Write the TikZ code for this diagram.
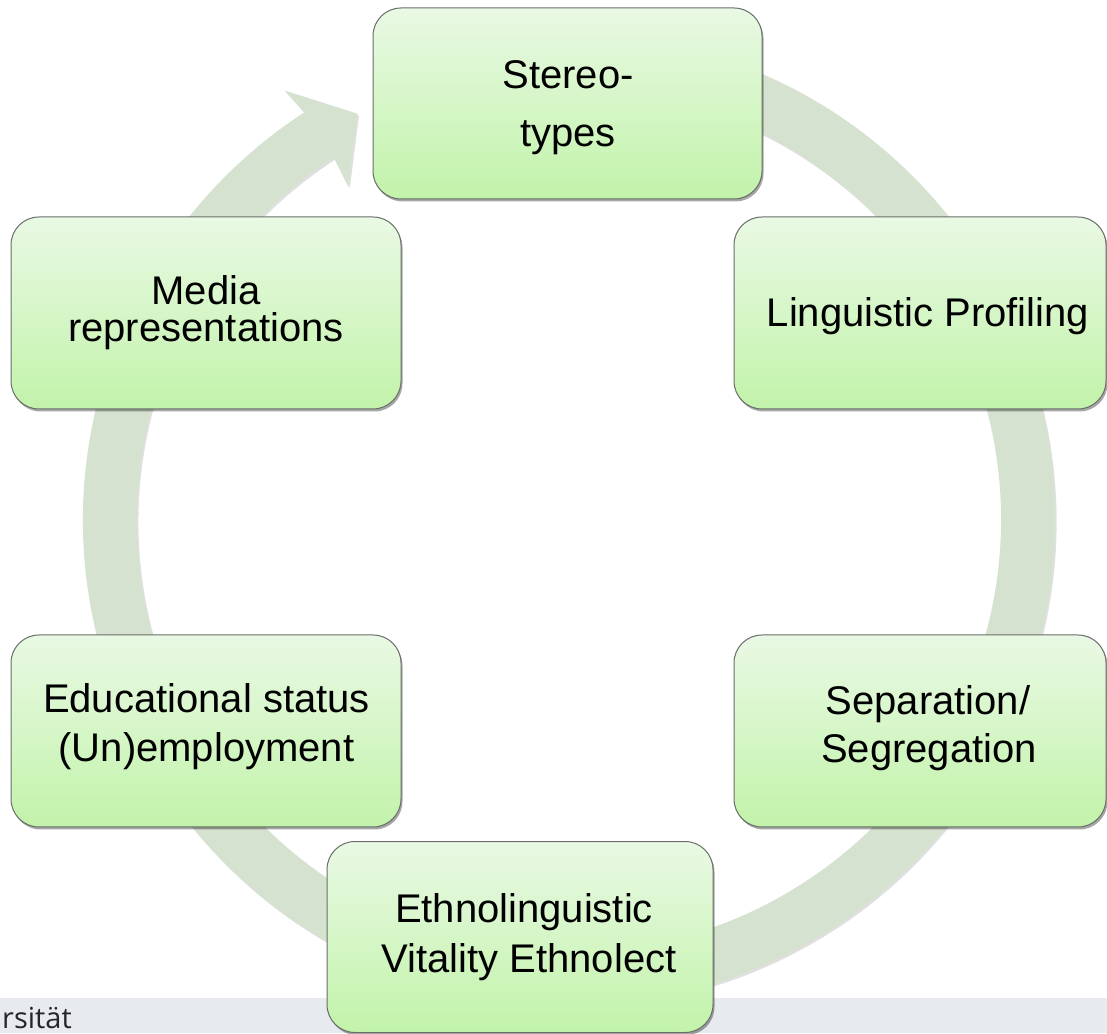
\documentclass[tikz,border=0pt]{standalone}
\usepackage{fontspec}
\setmainfont{Liberation Sans}
\newfontfamily\barfont{Open Sans}
\usetikzlibrary{shadows}
\definecolor{ringc}{RGB}{214,226,208}
\definecolor{boxtop}{RGB}{233,249,228}
\definecolor{boxbot}{RGB}{194,243,170}
\definecolor{boxline}{RGB}{105,110,105}
\definecolor{barc}{RGB}{231,234,238}
\tikzset{
  cbox/.style={rectangle, rounded corners=28pt, draw=boxline, line width=1pt,
    top color=boxtop, bottom color=boxbot, inner sep=0pt,
    drop shadow={shadow xshift=1.5pt, shadow yshift=-2.5pt, fill=black, opacity=0.35}},
  lbl/.style={anchor=base, inner sep=0pt, font=\fontsize{40}{48}\selectfont},
}
\begin{document}
\begin{tikzpicture}[x=1pt,y=1pt]
\useasboundingbox (0,0) rectangle (1107,1033);
\fill[white] (0,0) rectangle (1107,1033);
% bottom bar
\fill[barc] (0,0) rectangle (1107,35);
\node[anchor=base west, inner sep=0pt, font=\barfont\fontsize{29}{34}\selectfont, text=black!85] (bartext) at (2,5) {rsität};
% circular arrow
\begin{scope}[shift={(569,513)}]
\fill[black, opacity=0.12, shift={(1.5pt,-2pt)}]
  (75:486pt) arc[start angle=75, end angle=-237, radius=486pt]
  -- (123.5:515pt) -- (117.5:458pt) -- (123.5:400pt) -- (123:432pt)
  arc[start angle=-237, end angle=75, radius=432pt] -- cycle;
\fill[ringc]
  (75:486pt) arc[start angle=75, end angle=-237, radius=486pt]
  -- (123.5:515pt) -- (117.5:458pt) -- (123.5:400pt) -- (123:432pt)
  arc[start angle=-237, end angle=75, radius=432pt] -- cycle;
\end{scope}
% boxes
\node[cbox, minimum width=389pt, minimum height=191pt] (stereo) at (567.5,929.5) {};
\node[cbox, minimum width=372pt, minimum height=192pt] (ling) at (920,720) {};
\node[cbox, minimum width=390pt, minimum height=192pt] (media) at (206,720) {};
\node[cbox, minimum width=372pt, minimum height=192pt] (sep) at (920,302) {};
\node[cbox, minimum width=390pt, minimum height=192pt] (edu) at (206,302) {};
\node[cbox, minimum width=386pt, minimum height=191pt] (ethno) at (520,96) {};
% labels
\node[lbl] (stereoA) at (568,944) {Stereo-};
\node[lbl] (stereoB) at (568,886) {types};
\node[lbl] (lingA) at (928,706) {Linguistic Profiling};
\node[lbl] (mediaA) at (206,728) {Media};
\node[lbl] (mediaB) at (206,691) {representations};
\node[lbl] (eduA) at (206.5,320) {Educational status};
\node[lbl] (eduB) at (206.5,271) {(Un)employment};
\node[lbl] (sepA) at (928,318) {Separation/};
\node[lbl] (sepB) at (929,270) {Segregation};
\node[lbl] (ethnoA) at (524,111) {Ethnolinguistic};
\node[lbl] (ethnoB) at (529,61) {Vitality Ethnolect};
\end{tikzpicture}
\end{document}
